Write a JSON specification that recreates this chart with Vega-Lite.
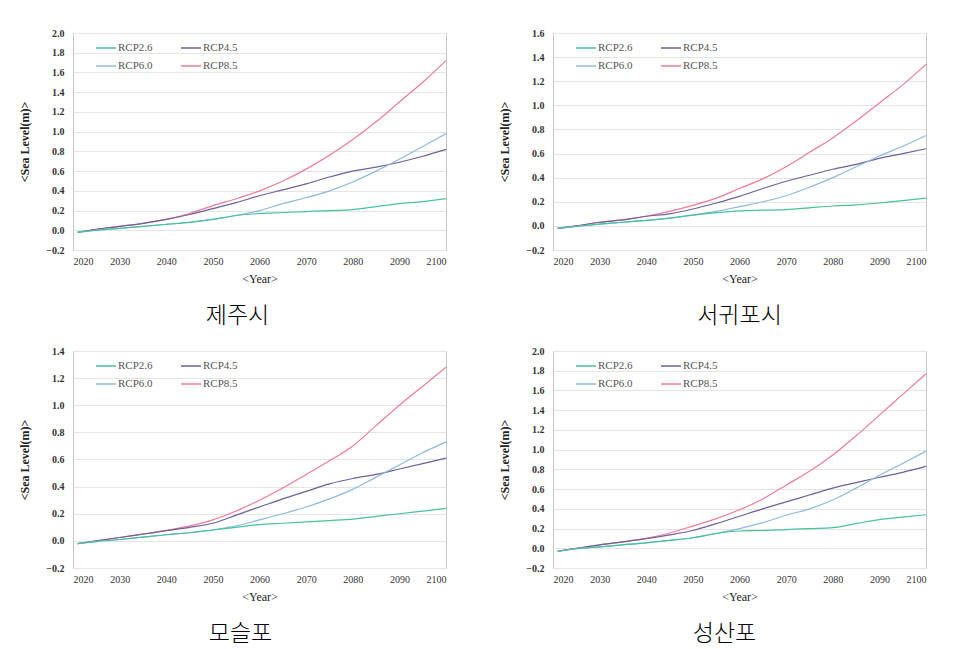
{
"$schema": "https://vega.github.io/schema/vega-lite/v6.json",
"padding": {"left": 18, "top": 27, "right": 5, "bottom": 0},
"background": "white",
"datasets": {
"jeju": [
{"scenario":"RCP8.5","year":2021,"value":-0.02},{"scenario":"RCP8.5","year":2025,"value":0.01},{"scenario":"RCP8.5","year":2030,"value":0.04},{"scenario":"RCP8.5","year":2035,"value":0.07},{"scenario":"RCP8.5","year":2040,"value":0.11},{"scenario":"RCP8.5","year":2045,"value":0.17},{"scenario":"RCP8.5","year":2050,"value":0.25},{"scenario":"RCP8.5","year":2055,"value":0.32},{"scenario":"RCP8.5","year":2060,"value":0.40},{"scenario":"RCP8.5","year":2065,"value":0.50},{"scenario":"RCP8.5","year":2070,"value":0.62},{"scenario":"RCP8.5","year":2075,"value":0.76},{"scenario":"RCP8.5","year":2080,"value":0.92},{"scenario":"RCP8.5","year":2085,"value":1.10},{"scenario":"RCP8.5","year":2090,"value":1.30},{"scenario":"RCP8.5","year":2095,"value":1.50},{"scenario":"RCP8.5","year":2100,"value":1.72},
{"scenario":"RCP4.5","year":2021,"value":-0.02},{"scenario":"RCP4.5","year":2025,"value":0.01},{"scenario":"RCP4.5","year":2030,"value":0.04},{"scenario":"RCP4.5","year":2035,"value":0.07},{"scenario":"RCP4.5","year":2040,"value":0.11},{"scenario":"RCP4.5","year":2045,"value":0.16},{"scenario":"RCP4.5","year":2050,"value":0.22},{"scenario":"RCP4.5","year":2055,"value":0.28},{"scenario":"RCP4.5","year":2060,"value":0.35},{"scenario":"RCP4.5","year":2065,"value":0.41},{"scenario":"RCP4.5","year":2070,"value":0.47},{"scenario":"RCP4.5","year":2075,"value":0.54},{"scenario":"RCP4.5","year":2080,"value":0.60},{"scenario":"RCP4.5","year":2085,"value":0.64},{"scenario":"RCP4.5","year":2090,"value":0.69},{"scenario":"RCP4.5","year":2095,"value":0.75},{"scenario":"RCP4.5","year":2100,"value":0.82},
{"scenario":"RCP6.0","year":2021,"value":-0.02},{"scenario":"RCP6.0","year":2025,"value":0.00},{"scenario":"RCP6.0","year":2030,"value":0.02},{"scenario":"RCP6.0","year":2035,"value":0.04},{"scenario":"RCP6.0","year":2040,"value":0.06},{"scenario":"RCP6.0","year":2045,"value":0.08},{"scenario":"RCP6.0","year":2050,"value":0.11},{"scenario":"RCP6.0","year":2055,"value":0.15},{"scenario":"RCP6.0","year":2060,"value":0.20},{"scenario":"RCP6.0","year":2065,"value":0.27},{"scenario":"RCP6.0","year":2070,"value":0.33},{"scenario":"RCP6.0","year":2075,"value":0.40},{"scenario":"RCP6.0","year":2080,"value":0.49},{"scenario":"RCP6.0","year":2085,"value":0.60},{"scenario":"RCP6.0","year":2090,"value":0.72},{"scenario":"RCP6.0","year":2095,"value":0.85},{"scenario":"RCP6.0","year":2100,"value":0.98},
{"scenario":"RCP2.6","year":2021,"value":-0.02},{"scenario":"RCP2.6","year":2025,"value":0.00},{"scenario":"RCP2.6","year":2030,"value":0.02},{"scenario":"RCP2.6","year":2035,"value":0.04},{"scenario":"RCP2.6","year":2040,"value":0.06},{"scenario":"RCP2.6","year":2045,"value":0.08},{"scenario":"RCP2.6","year":2050,"value":0.11},{"scenario":"RCP2.6","year":2055,"value":0.15},{"scenario":"RCP2.6","year":2060,"value":0.17},{"scenario":"RCP2.6","year":2065,"value":0.18},{"scenario":"RCP2.6","year":2070,"value":0.19},{"scenario":"RCP2.6","year":2075,"value":0.20},{"scenario":"RCP2.6","year":2080,"value":0.21},{"scenario":"RCP2.6","year":2085,"value":0.24},{"scenario":"RCP2.6","year":2090,"value":0.27},{"scenario":"RCP2.6","year":2095,"value":0.29},{"scenario":"RCP2.6","year":2100,"value":0.32}
],
"seogwipo": [
{"scenario":"RCP8.5","year":2021,"value":-0.02},{"scenario":"RCP8.5","year":2025,"value":0.00},{"scenario":"RCP8.5","year":2030,"value":0.03},{"scenario":"RCP8.5","year":2035,"value":0.05},{"scenario":"RCP8.5","year":2040,"value":0.08},{"scenario":"RCP8.5","year":2045,"value":0.12},{"scenario":"RCP8.5","year":2050,"value":0.17},{"scenario":"RCP8.5","year":2055,"value":0.23},{"scenario":"RCP8.5","year":2060,"value":0.31},{"scenario":"RCP8.5","year":2065,"value":0.39},{"scenario":"RCP8.5","year":2070,"value":0.49},{"scenario":"RCP8.5","year":2075,"value":0.61},{"scenario":"RCP8.5","year":2080,"value":0.73},{"scenario":"RCP8.5","year":2085,"value":0.87},{"scenario":"RCP8.5","year":2090,"value":1.02},{"scenario":"RCP8.5","year":2095,"value":1.17},{"scenario":"RCP8.5","year":2100,"value":1.34},
{"scenario":"RCP4.5","year":2021,"value":-0.02},{"scenario":"RCP4.5","year":2025,"value":0.00},{"scenario":"RCP4.5","year":2030,"value":0.03},{"scenario":"RCP4.5","year":2035,"value":0.05},{"scenario":"RCP4.5","year":2040,"value":0.08},{"scenario":"RCP4.5","year":2045,"value":0.10},{"scenario":"RCP4.5","year":2050,"value":0.14},{"scenario":"RCP4.5","year":2055,"value":0.19},{"scenario":"RCP4.5","year":2060,"value":0.245},{"scenario":"RCP4.5","year":2065,"value":0.31},{"scenario":"RCP4.5","year":2070,"value":0.37},{"scenario":"RCP4.5","year":2075,"value":0.42},{"scenario":"RCP4.5","year":2080,"value":0.47},{"scenario":"RCP4.5","year":2085,"value":0.51},{"scenario":"RCP4.5","year":2090,"value":0.56},{"scenario":"RCP4.5","year":2095,"value":0.60},{"scenario":"RCP4.5","year":2100,"value":0.64},
{"scenario":"RCP6.0","year":2021,"value":-0.02},{"scenario":"RCP6.0","year":2025,"value":-0.005},{"scenario":"RCP6.0","year":2030,"value":0.015},{"scenario":"RCP6.0","year":2035,"value":0.03},{"scenario":"RCP6.0","year":2040,"value":0.045},{"scenario":"RCP6.0","year":2045,"value":0.065},{"scenario":"RCP6.0","year":2050,"value":0.09},{"scenario":"RCP6.0","year":2055,"value":0.12},{"scenario":"RCP6.0","year":2060,"value":0.16},{"scenario":"RCP6.0","year":2065,"value":0.20},{"scenario":"RCP6.0","year":2070,"value":0.25},{"scenario":"RCP6.0","year":2075,"value":0.32},{"scenario":"RCP6.0","year":2080,"value":0.40},{"scenario":"RCP6.0","year":2085,"value":0.49},{"scenario":"RCP6.0","year":2090,"value":0.58},{"scenario":"RCP6.0","year":2095,"value":0.66},{"scenario":"RCP6.0","year":2100,"value":0.75},
{"scenario":"RCP2.6","year":2021,"value":-0.02},{"scenario":"RCP2.6","year":2025,"value":-0.005},{"scenario":"RCP2.6","year":2030,"value":0.015},{"scenario":"RCP2.6","year":2035,"value":0.03},{"scenario":"RCP2.6","year":2040,"value":0.045},{"scenario":"RCP2.6","year":2045,"value":0.065},{"scenario":"RCP2.6","year":2050,"value":0.09},{"scenario":"RCP2.6","year":2055,"value":0.11},{"scenario":"RCP2.6","year":2060,"value":0.125},{"scenario":"RCP2.6","year":2065,"value":0.13},{"scenario":"RCP2.6","year":2070,"value":0.135},{"scenario":"RCP2.6","year":2075,"value":0.15},{"scenario":"RCP2.6","year":2080,"value":0.165},{"scenario":"RCP2.6","year":2085,"value":0.175},{"scenario":"RCP2.6","year":2090,"value":0.19},{"scenario":"RCP2.6","year":2095,"value":0.21},{"scenario":"RCP2.6","year":2100,"value":0.23}
],
"moslpo": [
{"scenario":"RCP8.5","year":2021,"value":-0.02},{"scenario":"RCP8.5","year":2025,"value":0.00},{"scenario":"RCP8.5","year":2030,"value":0.025},{"scenario":"RCP8.5","year":2035,"value":0.05},{"scenario":"RCP8.5","year":2040,"value":0.077},{"scenario":"RCP8.5","year":2045,"value":0.11},{"scenario":"RCP8.5","year":2050,"value":0.155},{"scenario":"RCP8.5","year":2055,"value":0.22},{"scenario":"RCP8.5","year":2060,"value":0.30},{"scenario":"RCP8.5","year":2065,"value":0.39},{"scenario":"RCP8.5","year":2070,"value":0.49},{"scenario":"RCP8.5","year":2075,"value":0.59},{"scenario":"RCP8.5","year":2080,"value":0.70},{"scenario":"RCP8.5","year":2085,"value":0.85},{"scenario":"RCP8.5","year":2090,"value":1.00},{"scenario":"RCP8.5","year":2095,"value":1.14},{"scenario":"RCP8.5","year":2100,"value":1.28},
{"scenario":"RCP4.5","year":2021,"value":-0.02},{"scenario":"RCP4.5","year":2025,"value":0.00},{"scenario":"RCP4.5","year":2030,"value":0.025},{"scenario":"RCP4.5","year":2035,"value":0.05},{"scenario":"RCP4.5","year":2040,"value":0.075},{"scenario":"RCP4.5","year":2045,"value":0.10},{"scenario":"RCP4.5","year":2050,"value":0.13},{"scenario":"RCP4.5","year":2055,"value":0.19},{"scenario":"RCP4.5","year":2060,"value":0.25},{"scenario":"RCP4.5","year":2065,"value":0.31},{"scenario":"RCP4.5","year":2070,"value":0.365},{"scenario":"RCP4.5","year":2075,"value":0.42},{"scenario":"RCP4.5","year":2080,"value":0.46},{"scenario":"RCP4.5","year":2085,"value":0.49},{"scenario":"RCP4.5","year":2090,"value":0.53},{"scenario":"RCP4.5","year":2095,"value":0.57},{"scenario":"RCP4.5","year":2100,"value":0.61},
{"scenario":"RCP6.0","year":2021,"value":-0.02},{"scenario":"RCP6.0","year":2025,"value":-0.005},{"scenario":"RCP6.0","year":2030,"value":0.01},{"scenario":"RCP6.0","year":2035,"value":0.028},{"scenario":"RCP6.0","year":2040,"value":0.045},{"scenario":"RCP6.0","year":2045,"value":0.06},{"scenario":"RCP6.0","year":2050,"value":0.08},{"scenario":"RCP6.0","year":2055,"value":0.11},{"scenario":"RCP6.0","year":2060,"value":0.155},{"scenario":"RCP6.0","year":2065,"value":0.20},{"scenario":"RCP6.0","year":2070,"value":0.25},{"scenario":"RCP6.0","year":2075,"value":0.31},{"scenario":"RCP6.0","year":2080,"value":0.38},{"scenario":"RCP6.0","year":2085,"value":0.47},{"scenario":"RCP6.0","year":2090,"value":0.56},{"scenario":"RCP6.0","year":2095,"value":0.65},{"scenario":"RCP6.0","year":2100,"value":0.73},
{"scenario":"RCP2.6","year":2021,"value":-0.02},{"scenario":"RCP2.6","year":2025,"value":-0.005},{"scenario":"RCP2.6","year":2030,"value":0.01},{"scenario":"RCP2.6","year":2035,"value":0.028},{"scenario":"RCP2.6","year":2040,"value":0.045},{"scenario":"RCP2.6","year":2045,"value":0.06},{"scenario":"RCP2.6","year":2050,"value":0.08},{"scenario":"RCP2.6","year":2055,"value":0.10},{"scenario":"RCP2.6","year":2060,"value":0.12},{"scenario":"RCP2.6","year":2065,"value":0.13},{"scenario":"RCP2.6","year":2070,"value":0.14},{"scenario":"RCP2.6","year":2075,"value":0.15},{"scenario":"RCP2.6","year":2080,"value":0.16},{"scenario":"RCP2.6","year":2085,"value":0.18},{"scenario":"RCP2.6","year":2090,"value":0.20},{"scenario":"RCP2.6","year":2095,"value":0.22},{"scenario":"RCP2.6","year":2100,"value":0.24}
],
"seongsanpo": [
{"scenario":"RCP8.5","year":2021,"value":-0.03},{"scenario":"RCP8.5","year":2025,"value":0.00},{"scenario":"RCP8.5","year":2030,"value":0.035},{"scenario":"RCP8.5","year":2035,"value":0.065},{"scenario":"RCP8.5","year":2040,"value":0.10},{"scenario":"RCP8.5","year":2045,"value":0.155},{"scenario":"RCP8.5","year":2050,"value":0.225},{"scenario":"RCP8.5","year":2055,"value":0.30},{"scenario":"RCP8.5","year":2060,"value":0.39},{"scenario":"RCP8.5","year":2065,"value":0.50},{"scenario":"RCP8.5","year":2070,"value":0.64},{"scenario":"RCP8.5","year":2075,"value":0.78},{"scenario":"RCP8.5","year":2080,"value":0.945},{"scenario":"RCP8.5","year":2085,"value":1.14},{"scenario":"RCP8.5","year":2090,"value":1.35},{"scenario":"RCP8.5","year":2095,"value":1.56},{"scenario":"RCP8.5","year":2100,"value":1.77},
{"scenario":"RCP4.5","year":2021,"value":-0.03},{"scenario":"RCP4.5","year":2025,"value":0.00},{"scenario":"RCP4.5","year":2030,"value":0.035},{"scenario":"RCP4.5","year":2035,"value":0.065},{"scenario":"RCP4.5","year":2040,"value":0.097},{"scenario":"RCP4.5","year":2045,"value":0.135},{"scenario":"RCP4.5","year":2050,"value":0.18},{"scenario":"RCP4.5","year":2055,"value":0.25},{"scenario":"RCP4.5","year":2060,"value":0.325},{"scenario":"RCP4.5","year":2065,"value":0.40},{"scenario":"RCP4.5","year":2070,"value":0.47},{"scenario":"RCP4.5","year":2075,"value":0.54},{"scenario":"RCP4.5","year":2080,"value":0.61},{"scenario":"RCP4.5","year":2085,"value":0.665},{"scenario":"RCP4.5","year":2090,"value":0.72},{"scenario":"RCP4.5","year":2095,"value":0.77},{"scenario":"RCP4.5","year":2100,"value":0.83},
{"scenario":"RCP6.0","year":2021,"value":-0.03},{"scenario":"RCP6.0","year":2025,"value":-0.005},{"scenario":"RCP6.0","year":2030,"value":0.015},{"scenario":"RCP6.0","year":2035,"value":0.035},{"scenario":"RCP6.0","year":2040,"value":0.055},{"scenario":"RCP6.0","year":2045,"value":0.08},{"scenario":"RCP6.0","year":2050,"value":0.107},{"scenario":"RCP6.0","year":2055,"value":0.15},{"scenario":"RCP6.0","year":2060,"value":0.20},{"scenario":"RCP6.0","year":2065,"value":0.26},{"scenario":"RCP6.0","year":2070,"value":0.335},{"scenario":"RCP6.0","year":2075,"value":0.40},{"scenario":"RCP6.0","year":2080,"value":0.49},{"scenario":"RCP6.0","year":2085,"value":0.61},{"scenario":"RCP6.0","year":2090,"value":0.74},{"scenario":"RCP6.0","year":2095,"value":0.86},{"scenario":"RCP6.0","year":2100,"value":0.985},
{"scenario":"RCP2.6","year":2021,"value":-0.03},{"scenario":"RCP2.6","year":2025,"value":-0.005},{"scenario":"RCP2.6","year":2030,"value":0.015},{"scenario":"RCP2.6","year":2035,"value":0.035},{"scenario":"RCP2.6","year":2040,"value":0.055},{"scenario":"RCP2.6","year":2045,"value":0.08},{"scenario":"RCP2.6","year":2050,"value":0.107},{"scenario":"RCP2.6","year":2055,"value":0.15},{"scenario":"RCP2.6","year":2060,"value":0.175},{"scenario":"RCP2.6","year":2065,"value":0.18},{"scenario":"RCP2.6","year":2070,"value":0.19},{"scenario":"RCP2.6","year":2075,"value":0.20},{"scenario":"RCP2.6","year":2080,"value":0.21},{"scenario":"RCP2.6","year":2085,"value":0.25},{"scenario":"RCP2.6","year":2090,"value":0.29},{"scenario":"RCP2.6","year":2095,"value":0.315},{"scenario":"RCP2.6","year":2100,"value":0.34}
]
},
"columns": 2,
"spacing": {"column": 107, "row": 101},
"bounds": "flush",
"resolve": {"scale": {"y": "independent"}, "legend": {"color": "independent"}},
"concat": [
{
 "title": {"text": "제주시", "dx": -22},
 "width": 373, "height": 217,
 "data": {"name": "jeju"},
 "mark": {"type": "line", "strokeWidth": 1.2, "interpolate": "monotone"},
 "encoding": {
  "x": {"field": "year", "type": "quantitative", "scale": {"domain": [2020, 2100], "nice": false}, "axis": {"values": [2020,2030,2040,2050,2060,2070,2080,2090,2100], "format": "d", "title": "<Year>"}},
  "y": {"field": "value", "type": "quantitative", "scale": {"domain": [-0.2, 2.0], "nice": false, "zero": false}, "axis": {"values": [-0.2,0,0.2,0.4,0.6,0.8,1.0,1.2,1.4,1.6,1.8,2.0], "format": ".1f", "title": "<Sea Level(m)>"}},
  "color": {"field": "scenario", "type": "nominal", "scale": {"domain": ["RCP2.6","RCP6.0","RCP4.5","RCP8.5"], "range": ["#47c29c","#8cbadc","#6e5f9e","#ee7b96"]}, "legend": {"orient": "none", "legendX": 22, "legendY": 4}}
 }
},
{
 "title": {"text": "서귀포시", "dx": 0},
 "width": 373, "height": 217,
 "data": {"name": "seogwipo"},
 "mark": {"type": "line", "strokeWidth": 1.2, "interpolate": "monotone"},
 "encoding": {
  "x": {"field": "year", "type": "quantitative", "scale": {"domain": [2020, 2100], "nice": false}, "axis": {"values": [2020,2030,2040,2050,2060,2070,2080,2090,2100], "format": "d", "title": "<Year>"}},
  "y": {"field": "value", "type": "quantitative", "scale": {"domain": [-0.2, 1.6], "nice": false, "zero": false}, "axis": {"values": [-0.2,0,0.2,0.4,0.6,0.8,1.0,1.2,1.4,1.6], "format": ".1f", "title": "<Sea Level(m)>"}},
  "color": {"field": "scenario", "type": "nominal", "scale": {"domain": ["RCP2.6","RCP6.0","RCP4.5","RCP8.5"], "range": ["#47c29c","#8cbadc","#6e5f9e","#ee7b96"]}, "legend": {"orient": "none", "legendX": 22, "legendY": 4}}
 }
},
{
 "title": {"text": "모슬포", "dx": -19},
 "width": 373, "height": 217,
 "data": {"name": "moslpo"},
 "mark": {"type": "line", "strokeWidth": 1.2, "interpolate": "monotone"},
 "encoding": {
  "x": {"field": "year", "type": "quantitative", "scale": {"domain": [2020, 2100], "nice": false}, "axis": {"values": [2020,2030,2040,2050,2060,2070,2080,2090,2100], "format": "d", "title": "<Year>"}},
  "y": {"field": "value", "type": "quantitative", "scale": {"domain": [-0.2, 1.4], "nice": false, "zero": false}, "axis": {"values": [-0.2,0,0.2,0.4,0.6,0.8,1.0,1.2,1.4], "format": ".1f", "title": "<Sea Level(m)>"}},
  "color": {"field": "scenario", "type": "nominal", "scale": {"domain": ["RCP2.6","RCP6.0","RCP4.5","RCP8.5"], "range": ["#47c29c","#8cbadc","#6e5f9e","#ee7b96"]}, "legend": {"orient": "none", "legendX": 22, "legendY": 4}}
 }
},
{
 "title": {"text": "성산포", "dx": -15},
 "width": 373, "height": 217,
 "data": {"name": "seongsanpo"},
 "mark": {"type": "line", "strokeWidth": 1.2, "interpolate": "monotone"},
 "encoding": {
  "x": {"field": "year", "type": "quantitative", "scale": {"domain": [2020, 2100], "nice": false}, "axis": {"values": [2020,2030,2040,2050,2060,2070,2080,2090,2100], "format": "d", "title": "<Year>"}},
  "y": {"field": "value", "type": "quantitative", "scale": {"domain": [-0.2, 2.0], "nice": false, "zero": false}, "axis": {"values": [-0.2,0,0.2,0.4,0.6,0.8,1.0,1.2,1.4,1.6,1.8,2.0], "format": ".1f", "title": "<Sea Level(m)>"}},
  "color": {"field": "scenario", "type": "nominal", "scale": {"domain": ["RCP2.6","RCP6.0","RCP4.5","RCP8.5"], "range": ["#47c29c","#8cbadc","#6e5f9e","#ee7b96"]}, "legend": {"orient": "none", "legendX": 22, "legendY": 4}}
 }
}
],
"config": {
 "font": "Liberation Serif",
 "view": {"stroke": "#c4c4c4", "strokeWidth": 1},
 "axis": {"domain": false, "ticks": false, "labelFont": "Liberation Serif", "labelFontSize": 10, "labelColor": "#333333", "titleFont": "Liberation Serif", "titleColor": "#222222"},
 "axisY": {"labelFontWeight": "bold", "labelPadding": 9, "titleFontWeight": "bold", "titleFontSize": 12, "titlePadding": 14, "gridColor": "#e4e4e4", "grid": true},
 "axisX": {"grid": false, "labelPadding": 6, "titleFontWeight": "normal", "titleFontSize": 12, "titlePadding": 7},
 "legend": {"title": null, "columns": 2, "symbolType": "stroke", "symbolSize": 400, "symbolStrokeWidth": 1.5, "labelFont": "Liberation Serif", "labelFontSize": 11, "labelColor": "#555555", "labelOffset": 1, "columnPadding": 25, "rowPadding": 2},
 "title": {"orient": "bottom", "font": "Noto Sans CJK KR", "fontSize": 23, "fontWeight": 300, "color": "#000000", "offset": 21, "anchor": "middle"}
}
}
